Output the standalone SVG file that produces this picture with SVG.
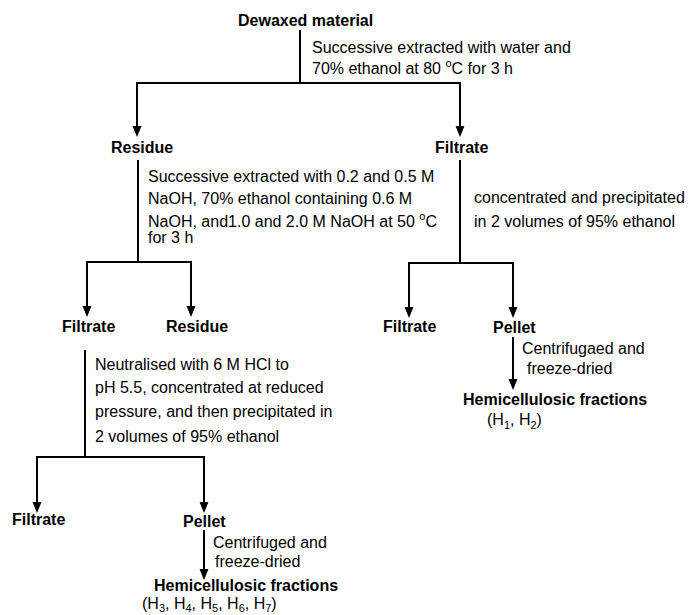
<svg xmlns="http://www.w3.org/2000/svg" width="688" height="615" viewBox="0 0 688 615">
<style>
text{font-family:"Liberation Sans",Arial,sans-serif;font-size:16px;fill:#000}
.b{font-weight:bold}
.s{font-size:11px}
.c{fill:none;stroke:#000;stroke-width:2}
</style>
<defs>
<marker id="ah" markerUnits="userSpaceOnUse" markerWidth="12" markerHeight="10" refX="5" refY="4.5" orient="auto-start-reverse">
<path d="M0,0 L11,4.5 L0,9 z" fill="#000"/>
</marker>
</defs>
<rect width="688" height="615" fill="#fff"/>
<g id="connectors">
<path class="c" d="M300,30 V83"/>
<path class="c" d="M137,131 V83 H460 V131" marker-start="url(#ah)" marker-end="url(#ah)"/>
<path class="c" d="M138,160 V262"/>
<path class="c" d="M87,311 V262 H191 V311" marker-start="url(#ah)" marker-end="url(#ah)"/>
<path class="c" d="M460,160 V263"/>
<path class="c" d="M409,312 V263 H513 V312" marker-start="url(#ah)" marker-end="url(#ah)"/>
<path class="c" d="M513,337 V384" marker-end="url(#ah)"/>
<path class="c" d="M85,350 V457"/>
<path class="c" d="M37,507 V457 H204 V507" marker-start="url(#ah)" marker-end="url(#ah)"/>
<path class="c" d="M204,530 V574" marker-end="url(#ah)"/>
</g>
<g id="dewaxed"><text class="b" x="238" y="26">Dewaxed material</text></g>
<g id="step1-label">
<text x="312" y="53">Successive extracted with water and</text>
<text x="312" y="74">70% ethanol at 80 <tspan class="s" dy="-7">o</tspan><tspan dy="7">C for 3 h</tspan></text>
</g>
<g id="residue1"><text class="b" x="111" y="153">Residue</text></g>
<g id="filtrate1"><text class="b" x="435" y="153">Filtrate</text></g>
<g id="step2-label">
<text x="148" y="182">Successive extracted with 0.2 and 0.5 M</text>
<text x="148" y="204">NaOH, 70% ethanol containing 0.6 M</text>
<text x="148" y="227">NaOH, and1.0 and 2.0 M NaOH at 50 <tspan class="s" dy="-7">o</tspan><tspan dy="7">C</tspan></text>
<text x="148" y="243">for 3 h</text>
</g>
<g id="step3-label">
<text x="474" y="203">concentrated and precipitated</text>
<text x="474" y="227">in 2 volumes of 95% ethanol</text>
</g>
<g id="filtrate2"><text class="b" x="62" y="332">Filtrate</text></g>
<g id="residue2"><text class="b" x="166" y="332">Residue</text></g>
<g id="filtrate3"><text class="b" x="383" y="332">Filtrate</text></g>
<g id="pellet1"><text class="b" x="493" y="333">Pellet</text></g>
<g id="step4-label">
<text x="522" y="354">Centrifugaed and</text>
<text x="527" y="374">freeze-dried</text>
</g>
<g id="hemi1">
<text class="b" x="463" y="405">Hemicellulosic fractions</text>
<text x="487" y="425">(H<tspan class="s" dy="4">1</tspan><tspan dy="-4">, H</tspan><tspan class="s" dy="4">2</tspan><tspan dy="-4">)</tspan></text>
</g>
<g id="step5-label">
<text x="95" y="370">Neutralised with 6 M HCl to</text>
<text x="95" y="393">pH 5.5, concentrated at reduced</text>
<text x="95" y="417">pressure, and then precipitated in</text>
<text x="95" y="442">2 volumes of 95% ethanol</text>
</g>
<g id="filtrate4"><text class="b" x="12" y="525">Filtrate</text></g>
<g id="pellet2"><text class="b" x="183" y="527">Pellet</text></g>
<g id="step6-label">
<text x="213" y="548">Centrifuged and</text>
<text x="215" y="567">freeze-dried</text>
</g>
<g id="hemi2">
<text class="b" x="154" y="591">Hemicellulosic fractions</text>
<text x="142" y="609">(H<tspan class="s" dy="3">3</tspan><tspan dy="-3">, H</tspan><tspan class="s" dy="3">4</tspan><tspan dy="-3">, H</tspan><tspan class="s" dy="3">5</tspan><tspan dy="-3">, H</tspan><tspan class="s" dy="3">6</tspan><tspan dy="-3">, H</tspan><tspan class="s" dy="3">7</tspan><tspan dy="-3">)</tspan></text>
</g>
</svg>
